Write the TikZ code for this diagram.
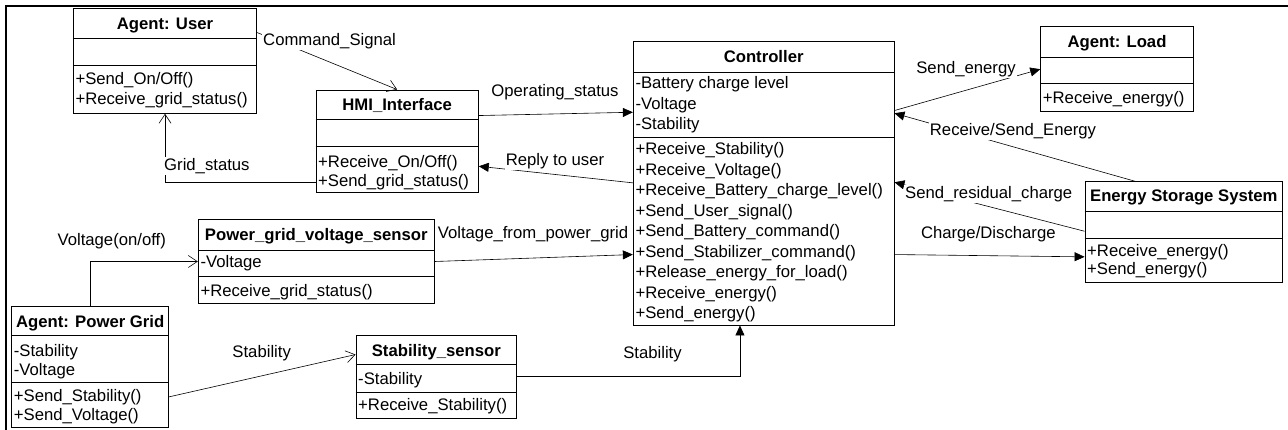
\documentclass[tikz,border=0pt]{standalone}
\usepackage{fontspec}
\setmainfont{Liberation Sans}
\usetikzlibrary{arrows.meta,calc}
\newcommand\txtfont{\fontsize{16.7pt}{20pt}\selectfont}
\newcommand\hdrfont{\fontsize{16.7pt}{20pt}\selectfont\bfseries}
\newcommand\members[5]{\foreach \t [count=\i from 0] in {#5} {\node[member] (#1\i) at (#2,{#3+#4*\i}) {\t};}}
\newcommand\divline[2]{\draw[dline] ([yshift=-#2pt]#1.north west) -- ([yshift=-#2pt]#1.north east);}
\tikzset{
 cls/.style={draw, line width=0.9pt, inner sep=0pt, rectangle},
 dline/.style={line width=0.9pt},
 conn/.style={line width=0.6pt},
 fillarr/.style={conn, -{Triangle[length=10pt,width=9pt]}},
 openarr/.style={conn, -{Straight Barb[length=9pt,width=12pt]}},
 hdr/.style={font=\hdrfont, anchor=base, inner sep=0pt},
 member/.style={font=\txtfont, anchor=base west, inner sep=0pt},
 lbl/.style={font=\txtfont, anchor=base, inner sep=1pt, fill=white},
 lblw/.style={lbl, anchor=base west},
}
\begin{document}
\begin{tikzpicture}[x=1pt,y=-1pt]
\useasboundingbox (0,0) rectangle (1288,430);
\fill[white] (0,0) rectangle (1288,430);
\draw[line width=2pt] (6,430) -- (6,6) -- (1288,6);

% ---- class boxes
\node[cls, minimum width=183.4pt, minimum height=105pt] (user) at (165,60.8) {};
\node[cls, minimum width=162.3pt, minimum height=102.7pt] (hmi) at (397.15,141.35) {};
\node[cls, minimum width=260.7pt, minimum height=283.3pt] (ctrl) at (763.65,183.35) {};
\node[cls, minimum width=152.6pt, minimum height=85pt] (load) at (1117,69.2) {};
\node[cls, minimum width=197.7pt, minimum height=101pt] (ess) at (1183.85,232.2) {};
\node[cls, minimum width=236pt, minimum height=83.6pt] (pgvs) at (316.3,261.5) {};
\node[cls, minimum width=157pt, minimum height=120.5pt] (pg) at (90.2,366.75) {};
\node[cls, minimum width=160.7pt, minimum height=83.3pt] (ss) at (436.35,376.65) {};

% ---- compartment lines
\divline{user}{31}\divline{user}{57.7}
\divline{hmi}{30}\divline{hmi}{56.7}
\divline{ctrl}{31}\divline{ctrl}{96}
\divline{load}{31}\divline{load}{57.6}
\divline{ess}{30}\divline{ess}{57.6}
\divline{pgvs}{31}\divline{pgvs}{57.6}
\divline{pg}{29.5}\divline{pg}{76.2}
\divline{ss}{30}\divline{ss}{57.5}

% ---- headers
\node[hdr] (userh) at (165,30) {Agent: User};
\node[hdr] (hmih) at (397.15,111) {HMI\_Interface};
\node[hdr] (ctrlh) at (763.65,62.5) {Controller};
\node[hdr] (loadh) at (1117,47.7) {Agent: Load};
\node[hdr] (essh) at (1183.85,201.5) {Energy Storage System};
\node[hdr] (pgvsh) at (316.3,241) {Power\_grid\_voltage\_sensor};
\node[hdr] (pgh) at (90.2,327.5) {Agent: Power Grid};
\node[hdr] (ssh) at (436.35,356) {Stability\_sensor};

% ---- members
\members{userm}{75.3}{85}{19.5}{+Send\_On/Off(), +Receive\_grid\_status()}
\members{hmim}{318}{167.2}{19}{+Receive\_On/Off(), +Send\_grid\_status()}
\members{ctrla}{635.3}{88.8}{20.5}{-Battery charge level, -Voltage, -Stability}
\members{ctrlm}{635.3}{154.8}{20.46}{+Receive\_Stability(), +Receive\_Voltage(), +Receive\_Battery\_charge\_level(), +Send\_User\_signal(), +Send\_Battery\_command(), +Send\_Stabilizer\_command(), +Release\_energy\_for\_load(), +Receive\_energy(), +Send\_energy()}
\members{loadm}{1042.7}{103.8}{19}{+Receive\_energy()}
\members{essm}{1087}{256.5}{18.5}{+Receive\_energy(), +Send\_energy()}
\members{pgvsa}{200.3}{267.8}{19}{-Voltage}
\members{pgvsm}{200.3}{296.5}{19}{+Receive\_grid\_status()}
\members{pga}{13.7}{356}{19}{-Stability, -Voltage}
\members{pgm}{13.7}{401.5}{19}{+Send\_Stability(), +Send\_Voltage()}
\members{ssa}{358}{384}{19}{-Stability}
\members{ssm}{358}{410.5}{19}{+Receive\_Stability()}

% ---- connectors
\draw[openarr] ([yshift=-24.7pt]user.north east) -- (hmi.north);
\draw[openarr] ([yshift=11pt]hmi.south west) -| (user.south);
\draw[fillarr] ([yshift=-26pt]hmi.north east) -- ([yshift=-71pt]ctrl.north west);
\draw[fillarr] ([yshift=-141.6pt]ctrl.north west) -- ([yshift=-76.7pt]hmi.north east);
\draw[fillarr] (pgvs.east) -- ([yshift=-213.3pt]ctrl.north west);
\draw[openarr] (pg.north) |- (pgvs.west);
\draw[openarr] ([yshift=-90.8pt]pg.north east) -- ([yshift=-20pt]ss.north west);
\draw[fillarr] (ss.east) -| ([xshift=-23.7pt]ctrl.south);
\draw[fillarr] ([yshift=-69.3pt]ctrl.north east) -- (load.west);
\draw[fillarr] ([xshift=-48.85pt]ess.north) -- ([yshift=-72pt]ctrl.north east);
\draw[fillarr] ([yshift=-50pt]ess.north west) -- ([yshift=-141pt]ctrl.north east);
\draw[fillarr] ([yshift=-213.3pt]ctrl.north east) -- ([yshift=-75.6pt]ess.north west);

% ---- connector labels
\node[lblw] (lcmd) at (262,45.5) {Command\_Signal};
\node[lblw] (lgrid) at (163,170.5) {Grid\_status};
\node[lbl] (lop) at (555,96.5) {Operating\_status};
\node[lbl] (lreply) at (555,165.5) {Reply to user};
\node[lbl] (lvfpg) at (533,238.8) {Voltage\_from\_power\_grid};
\node[lbl] (lvonoff) at (111.7,245.5) {Voltage(on/off)};
\node[lbl] (lstab1) at (261.7,358) {Stability};
\node[lbl] (lstab2) at (652.5,358.8) {Stability};
\node[lbl] (lsend) at (966,73.8) {Send\_energy};
\node[lbl] (lrse) at (1013,135.5) {Receive/Send\_Energy};
\node[lbl] (lres) at (988.7,198.2) {Send\_residual\_charge};
\node[lbl] (lcd) at (988.3,238.8) {Charge/Discharge};
\end{tikzpicture}
\end{document}
